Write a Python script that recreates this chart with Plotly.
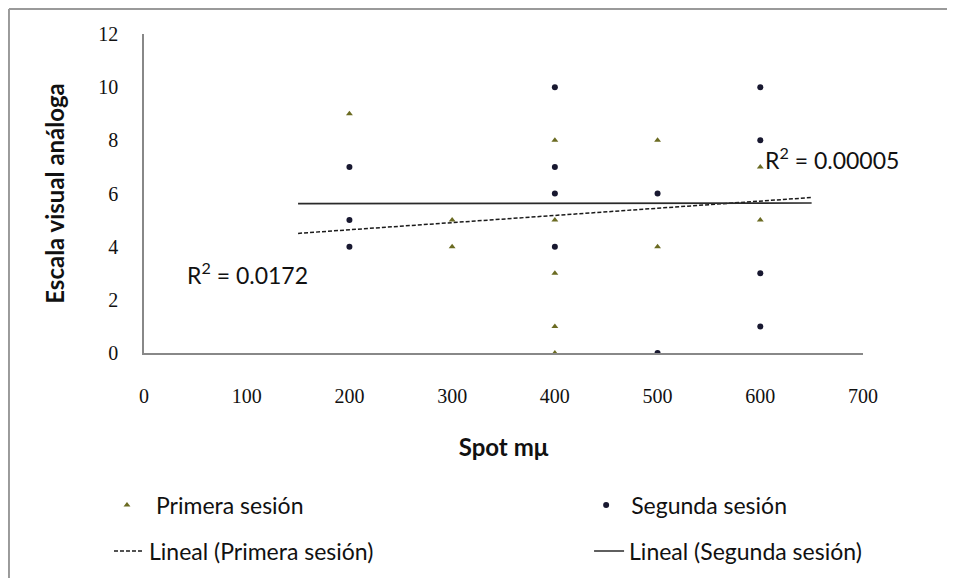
import plotly.graph_objects as go

# Data
primera_x = [200, 300, 300, 400, 400, 400, 400, 400, 500, 500, 600, 600]
primera_y = [9, 5, 4, 8, 5, 3, 1, 0, 8, 4, 7, 5]
segunda_x = [200, 200, 200, 400, 400, 400, 400, 500, 500, 600, 600, 600, 600]
segunda_y = [7, 5, 4, 10, 7, 6, 4, 6, 0, 10, 8, 3, 1]
trend_x = [150, 650]
trend_primera = [4.5, 5.85]
trend_segunda = [5.62, 5.64]
r2_primera = "R<sup>2</sup> = 0.0172"
r2_segunda = "R<sup>2</sup> = 0.00005"
x_ticks = [0, 100, 200, 300, 400, 500, 600, 700]
y_ticks = [0, 2, 4, 6, 8, 10, 12]

SANS = "Lato, 'Open Sans', sans-serif"
SERIF = "'Liberation Serif', 'DejaVu Serif', serif"

fig = go.Figure()
fig.add_trace(go.Scatter(
    x=primera_x, y=primera_y, mode="markers", name="Primera sesión",
    marker=dict(symbol="triangle-up", size=6, color="#6b6b22"), legend="legend",
))
fig.add_trace(go.Scatter(
    x=segunda_x, y=segunda_y, mode="markers", name="Segunda sesión",
    marker=dict(symbol="circle", size=6, color="#181830"), legend="legend2",
))
fig.add_trace(go.Scatter(
    x=trend_x, y=trend_primera, mode="lines", name="Lineal (Primera sesión)",
    line=dict(color="#1a1a1a", width=1.5, dash="4px,2px"), legend="legend3",
))
fig.add_trace(go.Scatter(
    x=trend_x, y=trend_segunda, mode="lines", name="Lineal (Segunda sesión)",
    line=dict(color="#2a2a2a", width=1.6), legend="legend4",
))

fig.add_annotation(x=40, y=3.0, xref="x", yref="y", text=r2_primera,
                   showarrow=False, xanchor="left", yanchor="middle",
                   font=dict(family=SANS, size=23, color="#111111"))
fig.add_annotation(x=603, y=7.3, xref="x", yref="y", text=r2_segunda,
                   showarrow=False, xanchor="left", yanchor="middle",
                   font=dict(family=SANS, size=23, color="#111111"))

# outer chart border (top and left edges visible)
fig.add_shape(type="line", xref="paper", yref="paper",
              x0=-0.1878, x1=1.13, y0=1.0784, y1=1.0784,
              line=dict(color="#9a9a9a", width=2), layer="above")
fig.add_shape(type="line", xref="paper", yref="paper",
              x0=-0.1878, x1=-0.1878, y0=1.0784, y1=-0.72,
              line=dict(color="#9a9a9a", width=2), layer="above")


def leg(x, y, iw):
    return dict(orientation="h", xanchor="left", yanchor="middle", x=x, y=y,
                itemwidth=iw, bgcolor="rgba(0,0,0,0)",
                font=dict(family=SANS, size=23, color="#111111"))


fig.update_layout(
    width=947, height=570,
    margin=dict(l=136, r=92, t=26, b=225, autoexpand=False),
    paper_bgcolor="white", plot_bgcolor="white",
    showlegend=True,
    legend=leg(-0.064, -0.4765, 48),
    legend2=leg(0.608, -0.4765, 40),
    legend3=leg(-0.0487, -0.6207, 30),
    legend4=leg(0.619, -0.6207, 30),
    xaxis=dict(range=[0, 700], tickvals=x_ticks, showgrid=False, zeroline=False,
               showline=True, linecolor="#888888", linewidth=1.5, ticks="",
               ticklabelstandoff=24,
               tickfont=dict(family=SERIF, size=20, color="#111111"),
               title=dict(text="<b>Spot mμ</b>", standoff=33,
                          font=dict(family=SANS, size=24, color="#111111"))),
    yaxis=dict(range=[0, 12], tickvals=y_ticks, showgrid=False, zeroline=False,
               showline=True, linecolor="#888888", linewidth=1.5, ticks="",
               ticklabelstandoff=20,
               tickfont=dict(family=SERIF, size=20, color="#111111"),
               title=dict(text="<b>Escala visual análoga</b>", standoff=27,
                          font=dict(family=SANS, size=24, color="#111111"))),
)

fig.write_html("out.html")
